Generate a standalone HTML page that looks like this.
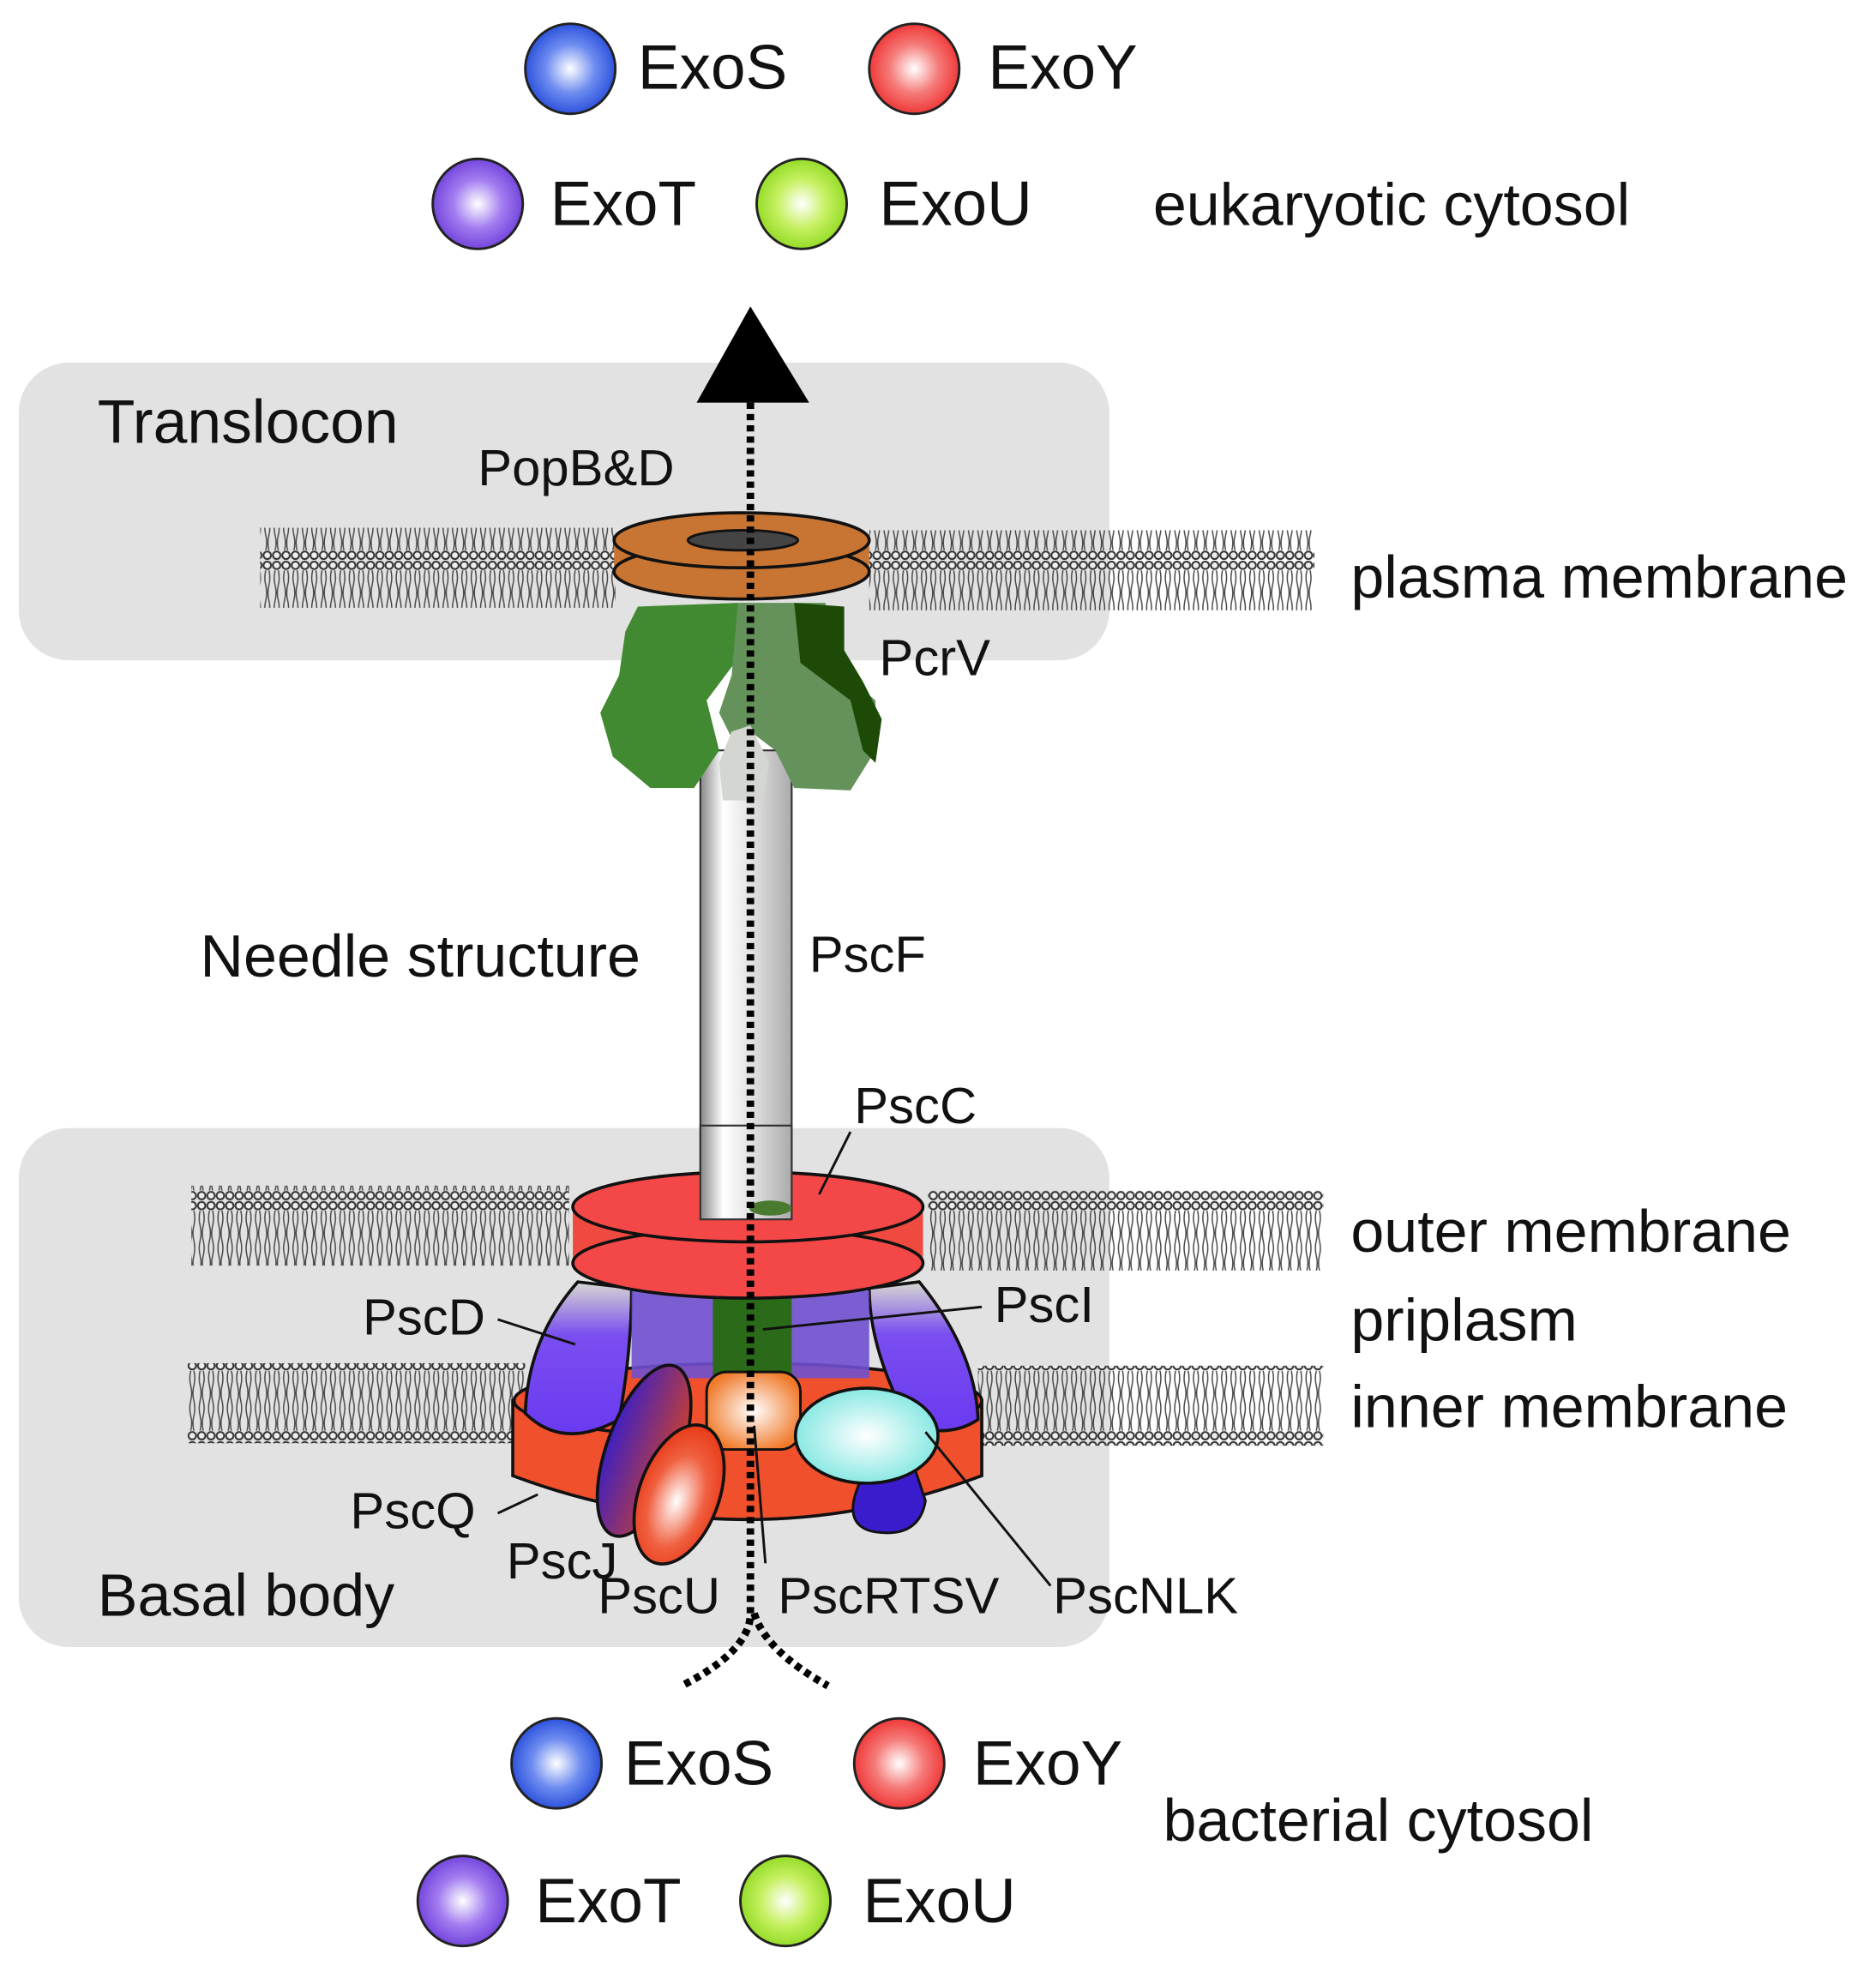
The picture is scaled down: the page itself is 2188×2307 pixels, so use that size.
<!DOCTYPE html>
<html><head><meta charset="utf-8"><style>
html,body{margin:0;padding:0;background:#fff}
svg{display:block}
text{font-family:"Liberation Sans",sans-serif;fill:#111}
</style></head><body>
<svg width="2188" height="2307" viewBox="0 0 1500 1581.6" xmlns="http://www.w3.org/2000/svg">
<defs>
<radialGradient id="gb" cx="0.5" cy="0.5" r="0.55"><stop offset="0" stop-color="#fff"/><stop offset="0.5" stop-color="#6d8cf0"/><stop offset="1" stop-color="#2046d8"/></radialGradient>
<radialGradient id="gr" cx="0.5" cy="0.5" r="0.55"><stop offset="0" stop-color="#fff"/><stop offset="0.5" stop-color="#f57a78"/><stop offset="1" stop-color="#ee2b2b"/></radialGradient>
<radialGradient id="gp" cx="0.5" cy="0.5" r="0.55"><stop offset="0" stop-color="#fff"/><stop offset="0.5" stop-color="#a27cf0"/><stop offset="1" stop-color="#6a3ad8"/></radialGradient>
<radialGradient id="gg" cx="0.5" cy="0.5" r="0.55"><stop offset="0" stop-color="#fff"/><stop offset="0.5" stop-color="#c6f060"/><stop offset="1" stop-color="#8ad81c"/></radialGradient>
<radialGradient id="gc" cx="0.5" cy="0.5" r="0.55"><stop offset="0" stop-color="#fff"/><stop offset="1" stop-color="#7ee6e0"/></radialGradient>
<radialGradient id="go" cx="0.5" cy="0.5" r="0.55"><stop offset="0" stop-color="#fff"/><stop offset="1" stop-color="#f07a2a"/></radialGradient>
<radialGradient id="gro" cx="0.5" cy="0.55" r="0.55"><stop offset="0" stop-color="#fff"/><stop offset="0.6" stop-color="#f06040"/><stop offset="1" stop-color="#e83a18"/></radialGradient>
<linearGradient id="needle" x1="0" x2="1"><stop offset="0" stop-color="#888"/><stop offset="0.25" stop-color="#fff"/><stop offset="0.6" stop-color="#ddd"/><stop offset="1" stop-color="#aaa"/></linearGradient>
<linearGradient id="pur" x1="0" y1="0" x2="0" y2="1"><stop offset="0" stop-color="#d8d8d0"/><stop offset="0.35" stop-color="#7a4ef0"/><stop offset="1" stop-color="#6a3af0"/></linearGradient>
<linearGradient id="pj" x1="0" y1="0" x2="1" y2="0"><stop offset="0" stop-color="#4020c0"/><stop offset="1" stop-color="#c84030"/></linearGradient>
<pattern id="lip" width="7.5" height="64" patternUnits="userSpaceOnUse">
<circle cx="3.7" cy="4" r="3" fill="#eee" stroke="#333" stroke-width="1.4"/>
<circle cx="3.7" cy="60" r="3" fill="#eee" stroke="#333" stroke-width="1.4"/>
<path d="M2.5 8 q-1.5 6 0 12 q1.5 6 0 12 q-1.5 6 0 12 q1.5 6 0 12 M5 8 q1.5 6 0 12 q-1.5 6 0 12 q1.5 6 0 12 q-1.5 6 0 12" fill="none" stroke="#444" stroke-width="1"/>
</pattern>
</defs>

<circle cx="456" cy="55" r="36" fill="url(#gb)" stroke="#222" stroke-width="2"/>
<text x="510" y="71" font-size="50">ExoS</text>
<circle cx="731" cy="55" r="36" fill="url(#gr)" stroke="#222" stroke-width="2"/>
<text x="790" y="71" font-size="50">ExoY</text>
<circle cx="382" cy="163" r="36" fill="url(#gp)" stroke="#222" stroke-width="2"/>
<text x="440" y="180" font-size="50">ExoT</text>
<circle cx="641" cy="163" r="36" fill="url(#gg)" stroke="#222" stroke-width="2"/>
<text x="703" y="180" font-size="50">ExoU</text>
<text x="922" y="180" font-size="48">eukaryotic cytosol</text>

<rect x="15" y="290" width="872" height="238" rx="40" fill="#e1e2e1"/>
<text x="78" y="354" font-size="49">Translocon</text>
<text x="382" y="388" font-size="41">PopB&amp;D</text>
<rect x="208" y="422" width="284" height="64" fill="url(#lip)"/>
<rect x="695" y="424" width="356" height="64" fill="url(#lip)"/>
<text x="1080" y="478" font-size="48">plasma membrane</text>

<rect x="15" y="902" width="872" height="415" rx="40" fill="#e1e2e1"/>
<rect x="153" y="948" width="302" height="64" fill="url(#lip)"/>
<rect x="742" y="952" width="316" height="64" fill="url(#lip)"/>
<rect x="150" y="1090" width="270" height="64" fill="url(#lip)"/>
<rect x="782" y="1092" width="276" height="64" fill="url(#lip)"/>

<rect x="560" y="600" width="73" height="375" fill="url(#needle)" stroke="#333" stroke-width="1.5"/>

<path d="M510 485 L590 482 L595 520 L565 560 L575 600 L555 630 L520 630 L490 605 L480 570 L495 540 L500 505 Z" fill="#428a32"/>
<path d="M590 482 L660 482 L665 530 L700 560 L700 600 L680 632 L635 630 L620 600 L600 585 L590 600 L575 570 L585 540 Z" fill="#64925a"/>
<path d="M635 482 L675 485 L675 520 L690 545 L705 575 L700 610 L690 600 L680 560 L660 545 L640 530 Z" fill="#1e4a08"/>
<path d="M585 585 L600 580 L615 610 L610 640 L578 640 L575 610 Z" fill="#d4d6d2"/>

<rect x="491" y="432" width="204" height="25" fill="#c87533"/>
<ellipse cx="593" cy="457" rx="102" ry="22" fill="#c87533" stroke="#111" stroke-width="2.5"/>
<ellipse cx="593" cy="432" rx="102" ry="22" fill="#c87533" stroke="#111" stroke-width="2.5"/>
<ellipse cx="594" cy="432" rx="44" ry="8" fill="#444" stroke="#111" stroke-width="2"/>

<path d="M410 1120 L410 1180 Q598 1250 785 1180 L785 1120 Z" fill="#f0502c" stroke="#111" stroke-width="2.5"/>
<ellipse cx="598" cy="1120" rx="187" ry="30" fill="#f0502c" stroke="#111" stroke-width="2.5"/>
<path d="M462 1025 Q422 1070 420 1130 Q450 1160 495 1135 Q505 1080 505 1030 Z" fill="url(#pur)" stroke="#111" stroke-width="2.5"/>
<path d="M735 1025 Q780 1080 782 1135 Q760 1150 728 1140 Q695 1080 695 1030 Z" fill="url(#pur)" stroke="#111" stroke-width="2.5"/>
<rect x="505" y="1032" width="190" height="70" fill="#7050d0" opacity="0.9"/>
<rect x="570" y="1032" width="63" height="70" fill="#2a6a18"/>
<path d="M690 1180 Q670 1220 700 1225 Q735 1230 740 1200 L730 1170 Z" fill="#3a1ccc" stroke="#111" stroke-width="2"/>
<rect x="565" y="1097" width="75" height="62" rx="16" fill="url(#go)" stroke="#111" stroke-width="2"/>
<ellipse cx="515" cy="1160" rx="30" ry="72" transform="rotate(20 515 1160)" fill="url(#pj)" stroke="#111" stroke-width="2.5"/>
<ellipse cx="543" cy="1195" rx="32" ry="58" transform="rotate(20 543 1195)" fill="url(#gro)" stroke="#111" stroke-width="2.5"/>
<ellipse cx="693" cy="1148" rx="57" ry="38" fill="url(#gc)" stroke="#111" stroke-width="2.5"/>

<rect x="458" y="965" width="280" height="45" fill="#f04a40"/>
<ellipse cx="598" cy="1010" rx="140" ry="28" fill="#f44848" stroke="#111" stroke-width="2.5"/>
<ellipse cx="598" cy="965" rx="140" ry="28" fill="#f44848" stroke="#111" stroke-width="2.5"/>
<rect x="560" y="900" width="73" height="75" fill="url(#needle)" stroke="#333" stroke-width="1.5"/>
<ellipse cx="616" cy="966" rx="17" ry="6" fill="#4a7a30"/>

<polygon points="600,245 557,322 647,322" fill="#000"/>
<path d="M600 322 L600 1290 Q600 1320 545 1348" fill="none" stroke="#000" stroke-width="6" stroke-dasharray="5 4"/>
<path d="M603 1290 Q612 1320 662 1348" fill="none" stroke="#000" stroke-width="6" stroke-dasharray="5 4"/>

<g stroke="#111" stroke-width="2" fill="none">
<line x1="398" y1="1055" x2="460" y2="1075"/>
<line x1="785" y1="1045" x2="610" y2="1063"/>
<line x1="680" y1="905" x2="655" y2="955"/>
<line x1="398" y1="1210" x2="430" y2="1195"/>
<line x1="612" y1="1250" x2="603" y2="1140"/>
<line x1="840" y1="1268" x2="740" y2="1145"/>
</g>

<text x="703" y="540" font-size="41">PcrV</text>
<text x="160" y="781" font-size="48">Needle structure</text>
<text x="647" y="777" font-size="41">PscF</text>
<text x="683" y="898" font-size="41">PscC</text>
<text x="1080" y="1001" font-size="48">outer membrane</text>
<text x="1080" y="1072" font-size="48">priplasm</text>
<text x="1080" y="1141" font-size="48">inner membrane</text>
<text x="290" y="1067" font-size="41">PscD</text>
<text x="795" y="1057" font-size="41">PscI</text>
<text x="280" y="1222" font-size="41">PscQ</text>
<text x="405" y="1262" font-size="41">PscJ</text>
<text x="78" y="1292" font-size="48">Basal body</text>
<text x="478" y="1290" font-size="41">PscU</text>
<text x="622" y="1290" font-size="41">PscRTSV</text>
<text x="842" y="1290" font-size="41">PscNLK</text>

<circle cx="445" cy="1410" r="36" fill="url(#gb)" stroke="#222" stroke-width="2"/>
<text x="499" y="1427" font-size="50">ExoS</text>
<circle cx="719" cy="1410" r="36" fill="url(#gr)" stroke="#222" stroke-width="2"/>
<text x="778" y="1427" font-size="50">ExoY</text>
<circle cx="370" cy="1520" r="36" fill="url(#gp)" stroke="#222" stroke-width="2"/>
<text x="428" y="1537" font-size="50">ExoT</text>
<circle cx="628" cy="1520" r="36" fill="url(#gg)" stroke="#222" stroke-width="2"/>
<text x="690" y="1537" font-size="50">ExoU</text>
<text x="930" y="1472" font-size="48">bacterial cytosol</text>
</svg>
</body></html>
